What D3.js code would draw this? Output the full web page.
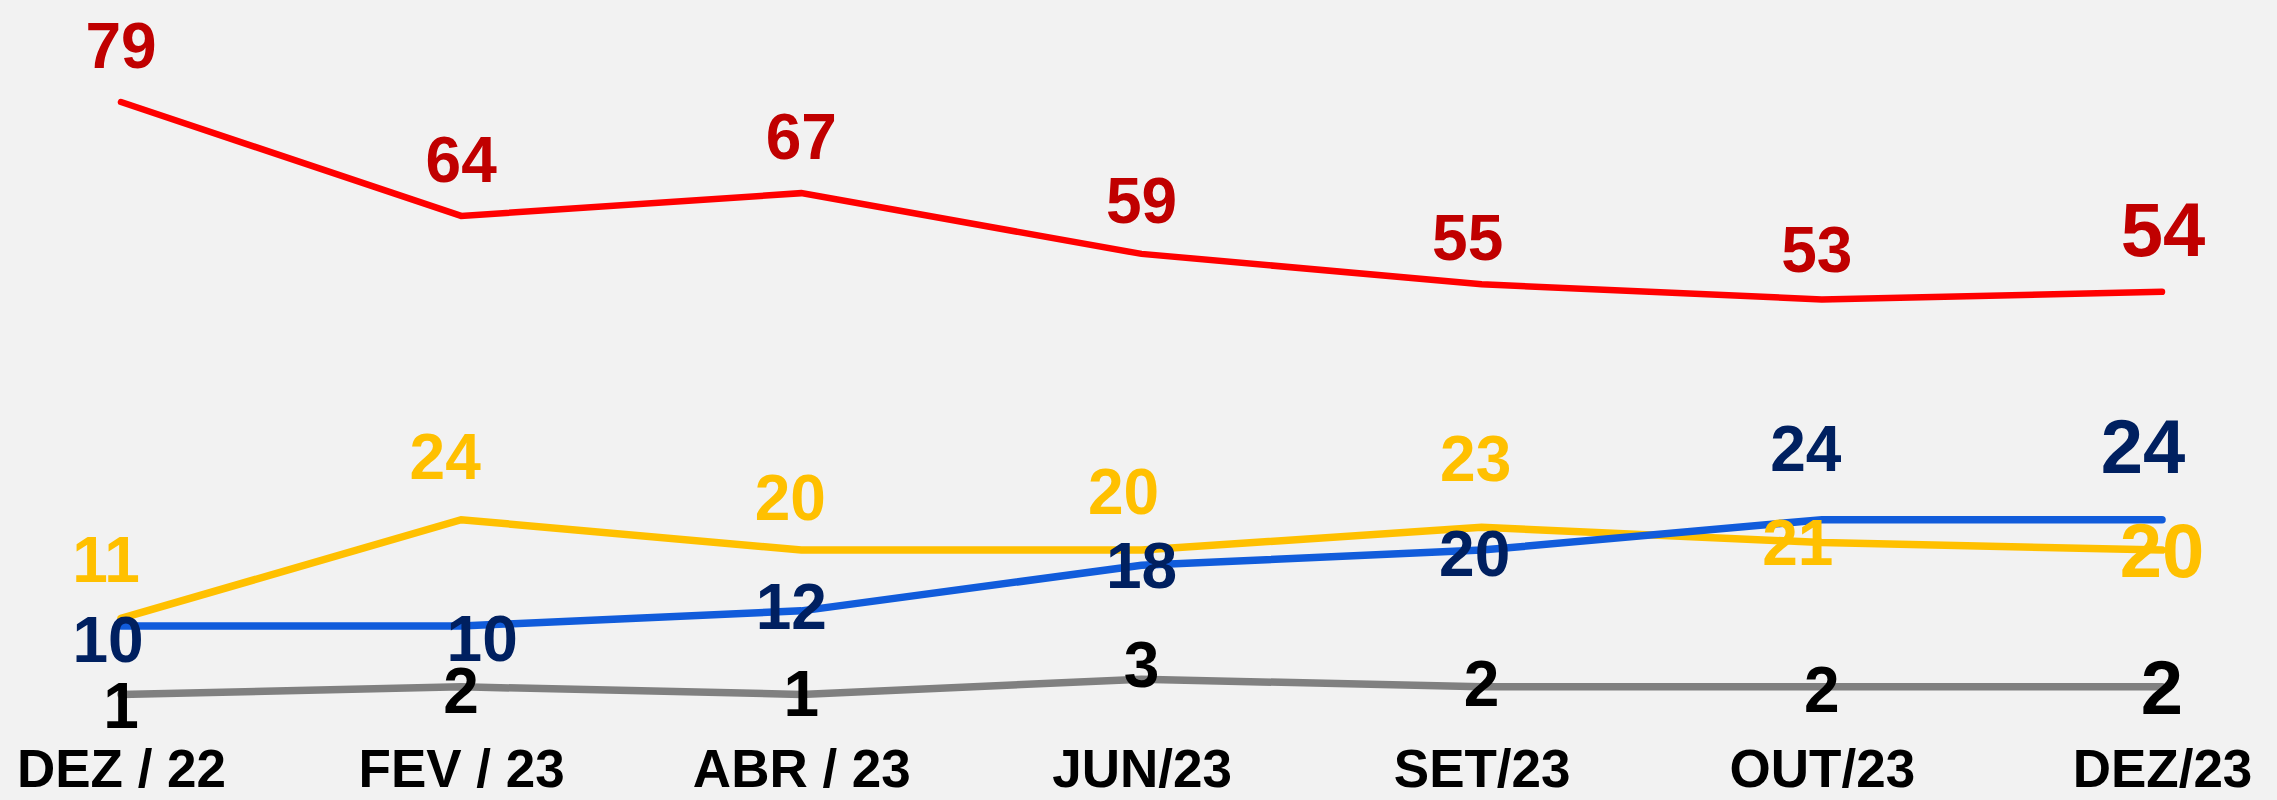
<!DOCTYPE html>
<html>
<head>
<meta charset="utf-8">
<script src="https://cdn.jsdelivr.net/npm/d3@7"></script>
<style>
  html, body { margin: 0; padding: 0; background: #f2f2f2; }
</style>
</head>
<body>
<div id="chart"></div>
<script>
// periods on the x axis
var months = ['DEZ / 22', 'FEV / 23', 'ABR / 23', 'JUN/23', 'SET/23', 'OUT/23', 'DEZ/23'];

// one array per line
var redValues = [79, 64, 67, 59, 55, 53, 54];
var yellowValues = [11, 24, 20, 20, 23, 21, 20];
var blueValues = [10, 10, 12, 18, 20, 24, 24];
var grayValues = [1, 2, 1, 3, 2, 2, 2];

var width = 2277,
    height = 800;

var svg = d3.select('#chart').append('svg')
    .attr('width', width)
    .attr('height', height)
    .style('background', '#f2f2f2')
    .style('font-family', '"Liberation Sans", Arial, sans-serif')
    .style('font-weight', 'bold');

var x = d3.scalePoint()
    .domain(months)
    .range([121, 2162]);

var y = d3.scaleLinear()
    .domain([0, 79])
    .range([702, 102]);

// label placement was hand tuned in the original, so keep the nudges here
var series = [
    { values: grayValues, line: '#808080', text: '#000000', width: 7.5,
      dx: [0, 0, 0, 0, 0, 0, 0], dy: [34, 26, 22, 8, 19, 25, 27] },
    { values: yellowValues, line: '#ffc000', text: '#ffc000', width: 7.5,
      dx: [-15, -16, -11, -18, -6, -24, 0], dy: [-36, -41, -30, -36, -46, 22, 27] },
    { values: blueValues, line: '#115cdb', text: '#002060', width: 7.5,
      dx: [-13, 21, -10, 0, -7, -16, -19], dy: [36, 35, 18, 23, 26, -49, -47] },
    { values: redValues, line: '#ff0000', text: '#c00000', width: 6.5,
      dx: [0, 0, 0, 0, -14, -5, 1], dy: [-34, -34, -34, -31, -24, -27, -36] }
];

var line = d3.line()
    .x(function(d, i) { return x(months[i]); })
    .y(function(d) { return y(d); });

var lines = svg.append('g');
series.forEach(function(s) {
    lines.append('path')
        .datum(s.values)
        .attr('fill', 'none')
        .attr('stroke', s.line)
        .attr('stroke-width', s.width)
        .attr('stroke-linecap', 'round')
        .attr('stroke-linejoin', 'miter')
        .attr('d', line);
});

var labels = svg.append('g').attr('text-anchor', 'middle');
series.forEach(function(s) {
    labels.selectAll(null)
        .data(s.values)
        .enter().append('text')
        .attr('x', function(d, i) { return x(months[i]) + s.dx[i]; })
        .attr('y', function(d, i) { return y(d) + s.dy[i]; })
        .attr('fill', s.text)
        // the last column is written larger
        .attr('font-size', function(d, i) { return i === months.length - 1 ? '76px' : '64px'; })
        .text(function(d) { return d; });
});

// month labels along the bottom, no axis line
var xAxis = svg.append('g')
    .attr('transform', 'translate(0, 787)')
    .call(d3.axisBottom(x).tickSize(0).tickPadding(0));

xAxis.select('.domain').remove();
xAxis.selectAll('text')
    .attr('dy', 0)
    .attr('fill', '#000000')
    .style('font-family', '"Liberation Sans", Arial, sans-serif')
    .style('font-weight', 'bold')
    .style('font-size', '53px');
</script>
</body>
</html>
